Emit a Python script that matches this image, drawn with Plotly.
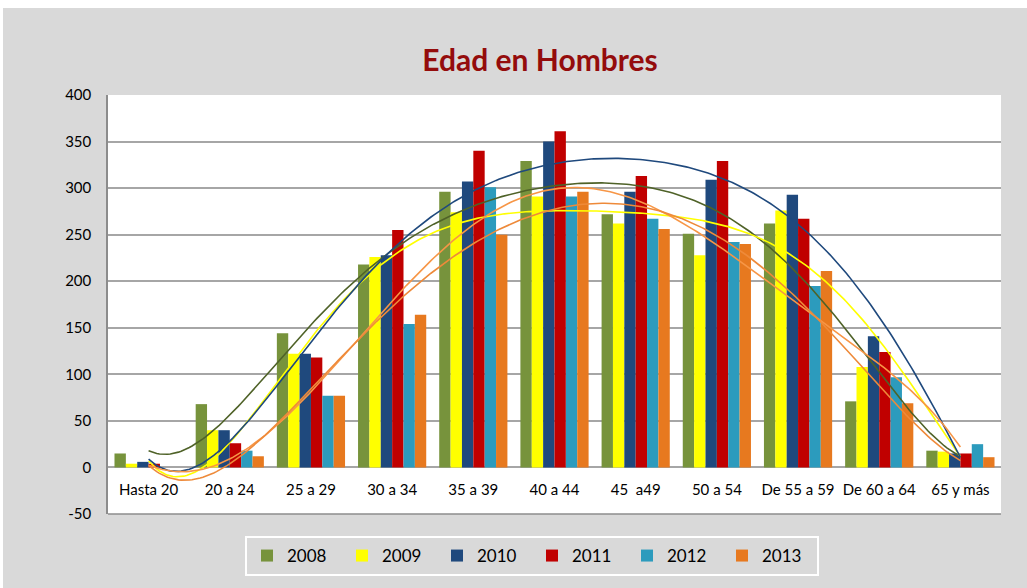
import numpy as np
import plotly.graph_objects as go

categories = ["Hasta 20", "20 a 24", "25 a 29", "30 a 34", "35 a 39", "40 a 44",
              "45  a49", "50 a 54", "De 55 a 59", "De 60 a 64", "65 y más"]
years = ["2008", "2009", "2010", "2011", "2012", "2013"]
v2008 = [15, 68, 144, 218, 296, 329, 272, 251, 262, 71, 18]
v2009 = [4, 40, 122, 226, 274, 291, 262, 228, 276, 108, 17]
v2010 = [6, 40, 122, 228, 307, 350, 296, 309, 293, 141, 15]
v2011 = [4, 26, 118, 255, 340, 361, 313, 329, 267, 124, 15]
v2012 = [0, 18, 77, 154, 301, 291, 267, 242, 195, 97, 25]
v2013 = [0, 12, 77, 164, 250, 296, 256, 240, 211, 69, 11]
series = [v2008, v2009, v2010, v2011, v2012, v2013]
y_ticks = [-50, 0, 50, 100, 150, 200, 250, 300, 350, 400]
y_ticktext = ["-50", "0", "50", "100", "150", "200", "250", "300", "350", "400"]

bar_colors = ["#77933c", "#ffff00", "#1f497d", "#c00000", "#2c9bbd", "#e7791f"]
# polynomial trendlines (Excel-style, order 6) shown for these series
trend_series = {"2008": "#4f6228", "2009": "#ffff00", "2010": "#1f497d",
                "2012": "#f79646", "2013": "#ee8a3a"}
TREND_ORDER = 6

xpos = np.arange(len(categories))

fig = go.Figure()
for name, vals, col in zip(years, series, bar_colors):
    fig.add_trace(go.Bar(x=xpos, y=vals, name=name, marker=dict(color=col, line=dict(width=0))))

xs = np.linspace(0, len(categories) - 1, 300)
for name, col in trend_series.items():
    vals = series[years.index(name)]
    coef = np.polyfit(xpos, vals, TREND_ORDER)
    fig.add_trace(go.Scatter(x=xs, y=np.polyval(coef, xs), mode="lines",
                             line=dict(color=col, width=1.6), showlegend=False,
                             hoverinfo="skip"))

W, H = 1027, 588
L, R, T, B = 108, 26, 95, 74
ymin, ymax = -50, 400
pw, ph = W - L - R, H - T - B

def px_x(p):
    return (p - L) / pw

def px_y(p):
    return (H - B - p) / ph

fig.update_layout(
    width=W, height=H,
    margin=dict(l=L, r=R, t=T, b=B, autoexpand=False),
    paper_bgcolor="#d9d9d9",
    plot_bgcolor="#ffffff",
    barmode="group", bargap=0.16, bargroupgap=0,
    font=dict(family="Lato, Carlito, Arial", size=15, color="#000000"),
    title=dict(text="<b>Edad en Hombres</b>", xref="container", x=540 / W, xanchor="center",
               yref="container", y=1 - 60 / H, yanchor="middle",
               font=dict(family="Lato, Arial", size=30, color="#940c0c")),
    legend=dict(orientation="h", x=px_x(532), xanchor="center", y=px_y(556), yanchor="middle",
                bgcolor="#d9d9d9", bordercolor="#ffffff", borderwidth=2,
                font=dict(size=17), entrywidth=50, entrywidthmode="pixels",
                itemwidth=30, traceorder="normal"),
    shapes=[dict(type="rect", xref="paper", yref="paper", x0=px_x(0), x1=px_x(W),
                 y0=px_y(8), y1=px_y(0), fillcolor="#ffffff", line=dict(width=0), layer="below"),
            dict(type="rect", xref="paper", yref="paper", x0=px_x(0), x1=px_x(3),
                 y0=px_y(H), y1=px_y(0), fillcolor="#ffffff", line=dict(width=0), layer="below"),
            dict(type="line", xref="paper", yref="paper", x0=0, x1=1, y0=0, y1=0,
                 line=dict(color="#8c8c8c", width=1.5))],
)
fig.update_xaxes(
    range=[-0.5, len(categories) - 0.5],
    tickmode="array", tickvals=list(xpos), ticktext=categories,
    anchor="free", position=(0 - ymin) / (ymax - ymin),
    showgrid=False, showline=False, ticks="", ticklabelstandoff=12,
    tickfont=dict(size=15),
)
fig.update_yaxes(
    range=[ymin, ymax], tickmode="array", tickvals=y_ticks, ticktext=y_ticktext,
    showgrid=True, gridcolor="#a6a6a6", gridwidth=1.5,
    zeroline=True, zerolinecolor="#a6a6a6", zerolinewidth=1.5,
    showline=True, linecolor="#8c8c8c", linewidth=1.5,
    ticks="", ticklabelstandoff=12, tickfont=dict(size=15),
)

fig.write_html("out.html", config={"displayModeBar": False},
               post_script="document.body.style.margin='0';")
